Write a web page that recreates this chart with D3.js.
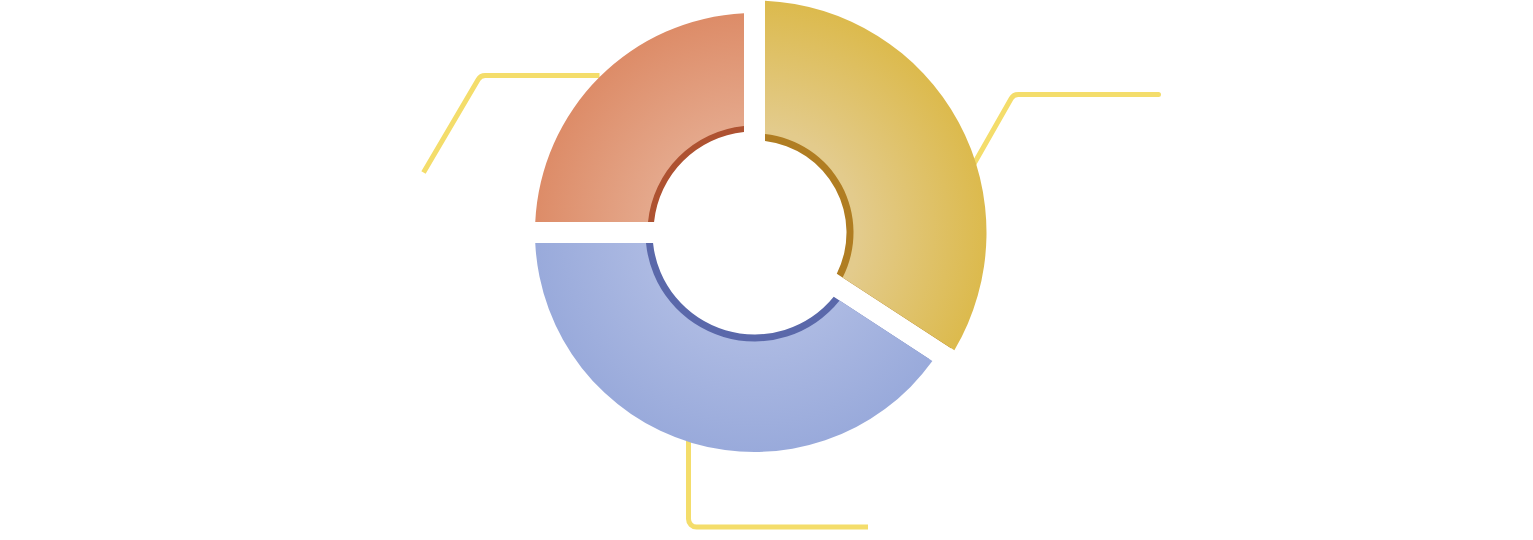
<!DOCTYPE html>
<html>
<head>
<meta charset="utf-8">
<script src="https://cdn.jsdelivr.net/npm/d3@7"></script>
<style>
  html, body { margin: 0; padding: 0; background: #ffffff; }
  svg { display: block; }
</style>
</head>
<body>
<svg id="chart" width="1533" height="540"></svg>
<script>
// ---- data (no labels are shown) ----
const categories = ["A", "B", "C"];
const values = [34.2, 40.8, 25.0];

// ---- styles / layout ----
const lightColors = ["#E3CB8C", "#AEBBE3", "#E5AA8E"];
const darkColors  = ["#DCBA4D", "#99AADB", "#DD8C68"];
const bandColors  = ["#B07D22", "#5A68AA", "#AE5231"];
const outerR = [232, 219.5, 219.5];
const innerR = [99, 109, 107];
const bandR  = [92, 102, 101];
const leaderColor = "#F4DD6B";
// leader polylines, offsets from pie centre
const leaders = [
  { pts: [[210, -52], [259, -138], [404, -138]], cap: "round" },
  { pts: [[-66, 207], [-66, 294.5], [113.5, 294.5]], cap: "butt" },
  { pts: [[-155, -157], [-274, -157], [-331, -60]], cap: "butt" }
];

const width = 1533, height = 540;
const cx = 754.5, cy = 232.5;

const svg = d3.select("#chart");
const defs = svg.append("defs");
const g = svg.append("g").attr("transform", `translate(${cx},${cy})`);

const pie = d3.pie().sort(null).startAngle(0).endAngle(2 * Math.PI);
const arcsData = pie(values);

// gradients (user space of the translated group -> centre is 0,0)
arcsData.forEach((d, i) => {
  const grad = defs.append("radialGradient")
    .attr("id", "grad" + i)
    .attr("gradientUnits", "userSpaceOnUse")
    .attr("cx", 0).attr("cy", 0).attr("r", outerR[i]);
  grad.append("stop").attr("offset", 0.45).attr("stop-color", lightColors[i]);
  grad.append("stop").attr("offset", 1).attr("stop-color", darkColors[i]);
});

// leader lines (behind slices)
function roundedPath(pts, r) {
  const p = d3.path();
  p.moveTo(pts[0][0], pts[0][1]);
  for (let k = 1; k < pts.length - 1; k++) {
    p.arcTo(pts[k][0], pts[k][1], pts[k + 1][0], pts[k + 1][1], r);
  }
  const last = pts[pts.length - 1];
  p.lineTo(last[0], last[1]);
  return p.toString();
}
g.selectAll("path.leader")
  .data(leaders)
  .join("path")
  .attr("class", "leader")
  .attr("d", d => roundedPath(d.pts, 8))
  .attr("fill", "none")
  .attr("stroke", leaderColor)
  .attr("stroke-width", 5)
  .attr("stroke-linecap", d => d.cap)
  .attr("stroke-linejoin", "round");

const padR = 200;
const padA = 2 * Math.asin(10.5 / padR);

// dark inner band (underneath)
g.selectAll("path.band")
  .data(arcsData)
  .join("path")
  .attr("class", "band")
  .attr("d", (d, i) => d3.arc()
      .innerRadius(bandR[i]).outerRadius(outerR[i] - 4)
      .padAngle(padA).padRadius(padR)(d))
  .attr("fill", (d, i) => bandColors[i]);

// slices
g.selectAll("path.slice")
  .data(arcsData)
  .join("path")
  .attr("class", "slice")
  .attr("d", (d, i) => d3.arc()
      .innerRadius(innerR[i]).outerRadius(outerR[i])
      .padAngle(padA).padRadius(padR)(d))
  .attr("fill", (d, i) => `url(#grad${i})`);
</script>
</body>
</html>
